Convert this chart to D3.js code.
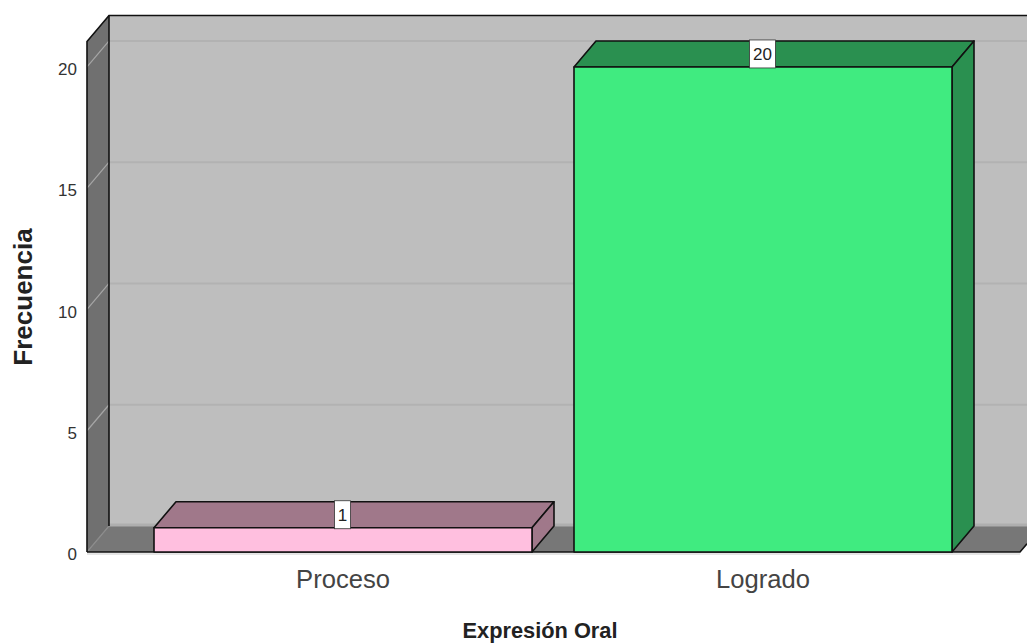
<!DOCTYPE html>
<html>
<head>
<meta charset="utf-8">
<script src="https://cdn.jsdelivr.net/npm/d3@7"></script>
<style>
  html, body { margin: 0; padding: 0; background: #fff; overflow: hidden; }
  text { font-family: "Liberation Sans", Arial, sans-serif; fill: #222; }
  .domain { display: none; }
</style>
</head>
<body>
<svg id="chart" width="1027" height="643"></svg>
<script>
const categories = ["Proceso", "Logrado"];
const frequencies = [1, 20];
const yTicks = [0, 5, 10, 15, 20];
const frontColors = ["#ffbfdf", "#40eb80"];
const sideColors = ["#a0788a", "#2a9050"];

const svg = d3.select('#chart');

const x = d3.scaleBand().domain(categories).range([133, 973]).paddingInner(0.1).paddingOuter(0.05);
const y = d3.scaleLinear().domain([0, 21.05]).range([552, 41.5]);

// depth of the 3d box
const dx = 22, dy = -26;
const boxLeft = 87, boxRight = 1020, boxBottom = y(0), boxTop = y(21.05);
const INK = "#111";

const poly = pts => pts.map(p => p.join(',')).join(' ');

// back wall
svg.append('polygon')
  .attr('points', poly([[boxLeft + dx, boxTop + dy], [1040, boxTop + dy], [1040, boxBottom + dy], [boxLeft + dx, boxBottom + dy]]))
  .attr('fill', '#bebebe');

// left wall
svg.append('polygon')
  .attr('points', poly([[boxLeft, boxTop], [boxLeft + dx, boxTop + dy], [boxLeft + dx, boxBottom + dy], [boxLeft, boxBottom]]))
  .attr('fill', '#707070');

// floor
svg.append('polygon')
  .attr('points', poly([[boxLeft, boxBottom], [boxLeft + dx, boxBottom + dy], [boxRight + dx, boxBottom + dy], [boxRight, boxBottom]]))
  .attr('fill', '#777777');

svg.append('line')
  .attr('x1', boxLeft + dx).attr('x2', 1027)
  .attr('y1', boxBottom + dy - 1).attr('y2', boxBottom + dy - 1)
  .attr('stroke', '#aeaeae').attr('stroke-width', 3);

// grid lines, on both walls
yTicks.forEach(t => {
  const g = svg.append('g').attr('class', 'grid');
  if (t > 0) {
    g.append('line')
      .attr('x1', boxLeft + dx).attr('x2', 1027)
      .attr('y1', y(t) + dy).attr('y2', y(t) + dy)
      .attr('stroke', '#b2b2b2').attr('stroke-width', 2);
  }
  g.append('line')
    .attr('x1', boxLeft).attr('x2', boxLeft + dx)
    .attr('y1', y(t)).attr('y2', y(t) + dy)
    .attr('stroke', t > 0 ? '#a6a6a6' : '#8c8c8c').attr('stroke-width', 1.2);
});

// box outline
svg.append('path')
  .attr('d', `M${boxLeft},${boxBottom}V${boxTop}L${boxLeft + dx},${boxTop + dy}H1027`)
  .attr('fill', 'none').attr('stroke', INK).attr('stroke-width', 1.6);
svg.append('line')
  .attr('x1', boxLeft + dx).attr('x2', boxLeft + dx)
  .attr('y1', boxTop + dy).attr('y2', boxBottom + dy)
  .attr('stroke', INK).attr('stroke-width', 1.6);
svg.append('path')
  .attr('d', `M${boxLeft},${boxBottom}H${boxRight}L1027,${boxBottom - (1027 - boxRight) * (-dy / dx)}`)
  .attr('fill', 'none').attr('stroke', INK).attr('stroke-width', 1.6);
svg.append('line')
  .attr('x1', boxLeft).attr('x2', boxRight)
  .attr('y1', boxBottom + 2).attr('y2', boxBottom + 2)
  .attr('stroke', '#ddd').attr('stroke-width', 1.5);

// bars
const bars = svg.selectAll('g.bar')
  .data(categories)
  .enter().append('g')
  .attr('class', 'bar')
  .attr('stroke', INK)
  .attr('stroke-width', 1.6)
  .attr('stroke-linejoin', 'round');

bars.append('polygon')
  .attr('fill', (d, i) => sideColors[i])
  .attr('points', (d, i) => {
    const x0 = x(d), x1 = x0 + x.bandwidth(), yt = y(frequencies[i]);
    return poly([[x0, yt], [x0 + dx, yt + dy], [x1 + dx, yt + dy], [x1, yt]]);
  });

bars.append('polygon')
  .attr('fill', (d, i) => sideColors[i])
  .attr('points', (d, i) => {
    const x1 = x(d) + x.bandwidth(), yt = y(frequencies[i]);
    return poly([[x1, yt], [x1 + dx, yt + dy], [x1 + dx, boxBottom + dy], [x1, boxBottom]]);
  });

bars.append('rect')
  .attr('fill', (d, i) => frontColors[i])
  .attr('x', d => x(d))
  .attr('y', (d, i) => y(frequencies[i]))
  .attr('width', x.bandwidth())
  .attr('height', (d, i) => boxBottom - y(frequencies[i]));

// value labels, sitting on the top face
const labels = svg.selectAll('g.value')
  .data(categories)
  .enter().append('g')
  .attr('class', 'value')
  .attr('transform', (d, i) => `translate(${x(d) + x.bandwidth() / 2 - 0.5},${y(frequencies[i]) + dy / 2})`);

labels.append('rect')
  .attr('x', (d, i) => frequencies[i] > 9 ? -13 : -8)
  .attr('y', -14)
  .attr('width', (d, i) => frequencies[i] > 9 ? 26 : 16)
  .attr('height', 28)
  .attr('fill', '#fff')
  .attr('stroke', '#333')
  .attr('stroke-width', 0.8);

labels.append('text')
  .attr('text-anchor', 'middle')
  .attr('y', 6)
  .attr('font-size', 17)
  .text((d, i) => frequencies[i]);

// axes
const yAxis = d3.axisLeft(y).tickValues(yTicks).tickSize(0).tickPadding(10);
const yG = svg.append('g').attr('transform', `translate(${boxLeft},0)`).call(yAxis);
yG.selectAll('text').attr('font-size', 17).attr('dy', '0.45em').style('fill', '#333');

const xAxis = d3.axisBottom(x).tickSize(0).tickPadding(18);
const xG = svg.append('g').attr('transform', `translate(0,${boxBottom})`).call(xAxis);
xG.selectAll('text').attr('font-size', 25.6).style('fill', '#444');

svg.append('text')
  .attr('x', 540).attr('y', 638)
  .attr('text-anchor', 'middle')
  .attr('font-size', 21.8)
  .attr('font-weight', 'bold')
  .text('Expresión Oral');

svg.append('text')
  .attr('transform', 'translate(32,297) rotate(-90)')
  .attr('text-anchor', 'middle')
  .attr('font-size', 26)
  .attr('font-weight', 'bold')
  .text('Frecuencia');
</script>
</body>
</html>
